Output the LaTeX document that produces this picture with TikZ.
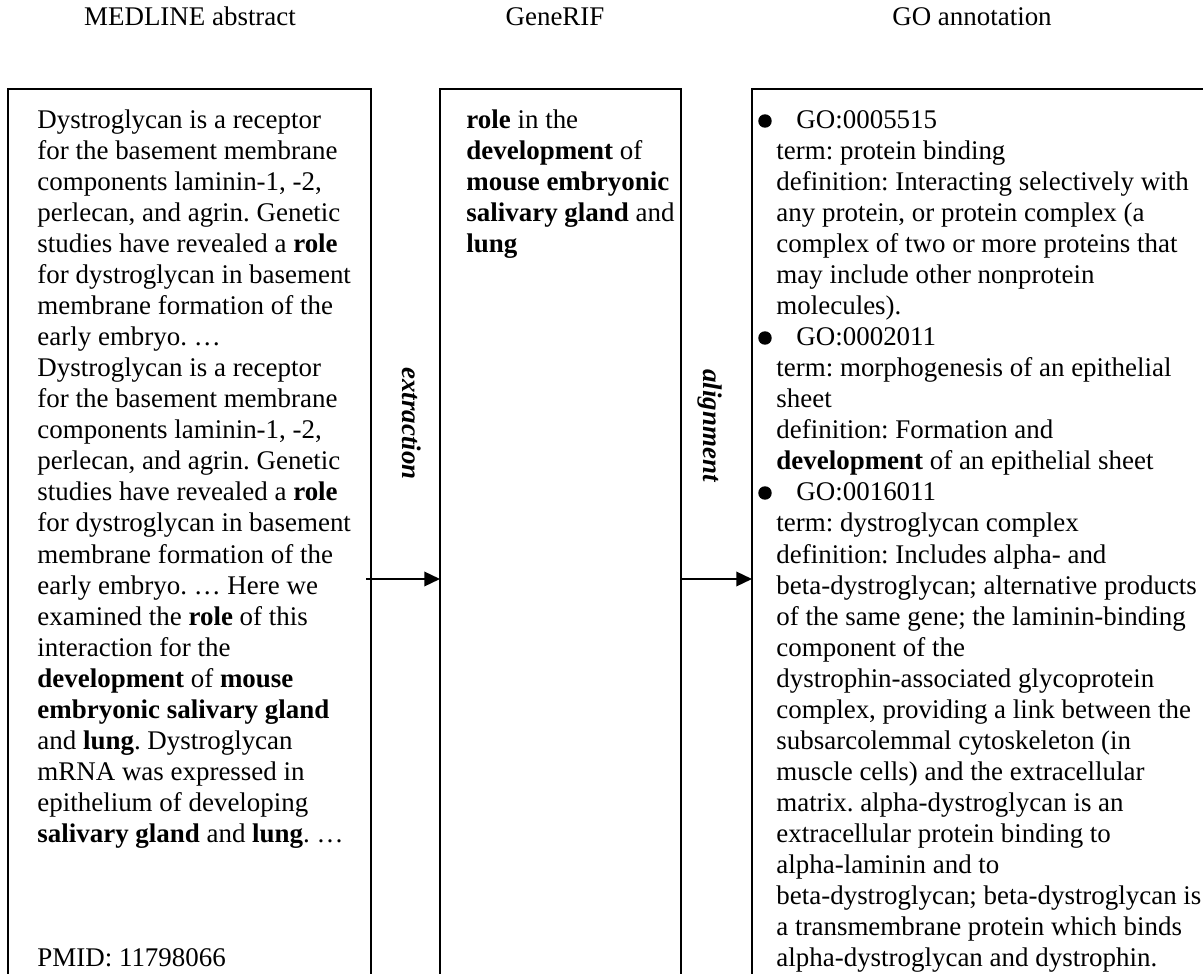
\documentclass[tikz,border=0pt]{standalone}
\usepackage{fontspec}
\setmainfont{Liberation Serif}
\usetikzlibrary{arrows.meta}
\frenchspacing
\begin{document}
\begin{tikzpicture}[x=0.4454pt,y=-0.4454pt,
  txt/.style={anchor=base west,inner sep=0pt,font=\fontsize{12}{13.8}\selectfont},
  title/.style={anchor=base,inner sep=0pt,font=\fontsize{12}{13.8}\selectfont},
  frame/.style={line width=0.85pt},
  flow/.style={line width=0.75pt,-{Triangle[length=7pt,width=6.5pt]}},
  verb/.style={anchor=base west,inner sep=0pt,rotate=-90,font=\fontsize{12}{13.8}\selectfont\bfseries\itshape},
  dot/.style={circle,fill,inner sep=0pt,minimum size=6pt}]
\clip (0,0) rectangle (1203,974);

% column headings
\node[title] (hAbs) at (190,26) {MEDLINE abstract};
\node[title] (hRif) at (555,26) {GeneRIF};
\node[title] (hGo)  at (972,26) {GO annotation};

% the three frames, open at the bottom
\draw[frame] (8,1000) |- (371,89) -- (371,1000);
\draw[frame] (440,1000) |- (681,89) -- (681,1000);
\draw[frame] (752,1000) |- (1230,89);

% arrows between the frames
\coordinate (absOut) at (366,579);
\coordinate (rifIn)  at (440,579);
\coordinate (rifOut) at (681,579);
\coordinate (goIn)   at (752,579);
\draw[flow] (absOut) -- (rifIn);
\draw[flow] (rifOut) -- (goIn);
\node[verb] (ext) at (402,367) {extraction};
\node[verb] (ali) at (703,369) {alignment};

% abstract text
\foreach \s [count=\i from 0] in {
  {Dystroglycan is a receptor},
  {for the basement membrane},
  {components laminin-1, -2,},
  {perlecan, and agrin. Genetic},
  {studies have revealed a \textbf{role}},
  {for dystroglycan in basement},
  {membrane formation of the},
  {early embryo. …},
  {Dystroglycan is a receptor},
  {for the basement membrane},
  {components laminin-1, -2,},
  {perlecan, and agrin. Genetic},
  {studies have revealed a \textbf{role}},
  {for dystroglycan in basement},
  {membrane formation of the},
  {early embryo. … Here we},
  {examined the \textbf{role} of this},
  {interaction for the},
  {\textbf{development} of \textbf{mouse}},
  {\textbf{embryonic salivary gland}},
  {and \textbf{lung}. Dystroglycan},
  {mRNA was expressed in},
  {epithelium of developing},
  {\textbf{salivary gland} and \textbf{lung}. …}}
  \node[txt] (abs\i) at (37,129+31*\i) {\s};
\node[txt] (pmid) at (37,129+31*27) {PMID: 11798066};

% GeneRIF text
\foreach \s [count=\i from 0] in {
  {\textbf{role} in the},
  {\textbf{development} of},
  {\textbf{mouse embryonic}},
  {\textbf{salivary gland} and},
  {\textbf{lung}}}
  \node[txt] (rif\i) at (466,129+31*\i) {\s};

% GO annotation text
\foreach \x/\s [count=\i from 0] in {
  796/{GO:0005515},
  776/{term: protein binding},
  776/{definition: Interacting selectively with},
  776/{any protein, or protein complex (a},
  776/{complex of two or more proteins that},
  776/{may include other nonprotein},
  776/{molecules).},
  796/{GO:0002011},
  776/{term: morphogenesis of an epithelial},
  776/{sheet},
  776/{definition: Formation and},
  776/{\textbf{development} of an epithelial sheet},
  796/{GO:0016011},
  776/{term: dystroglycan complex},
  776/{definition: Includes alpha- and},
  776/{beta-dystroglycan; alternative products},
  776/{of the same gene; the laminin-binding},
  776/{component of the},
  776/{dystrophin-associated glycoprotein},
  776/{complex, providing a link between the},
  776/{subsarcolemmal cytoskeleton (in},
  776/{muscle cells) and the extracellular},
  776/{matrix. alpha-dystroglycan is an},
  776/{extracellular protein binding to},
  776/{alpha-laminin and to},
  776/{beta-dystroglycan; beta-dystroglycan is},
  776/{a transmembrane protein which binds},
  776/{alpha-dystroglycan and dystrophin.}}
  \node[txt] (go\i) at (\x,129+31*\i) {\s};

% list bullets
\node[dot] (bul1) at (765,129-8) {};
\node[dot] (bul2) at (765,129+31*7-8) {};
\node[dot] (bul3) at (765,129+31*12-8) {};
\end{tikzpicture}
\end{document}
